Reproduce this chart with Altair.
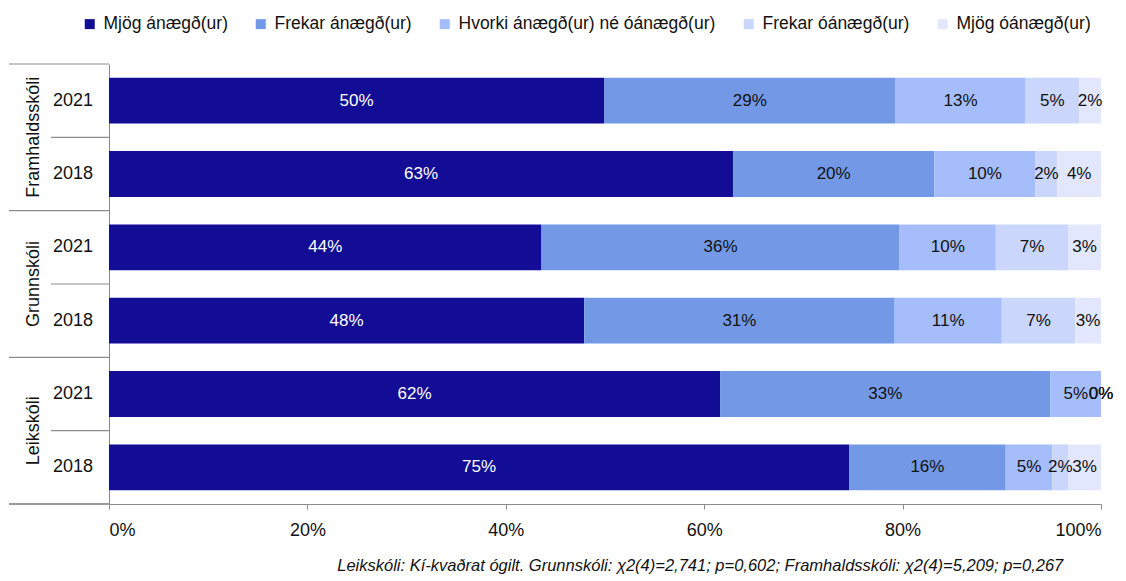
import altair as alt
import pandas as pd

FONT = "Liberation Sans"

groups = ["Framhaldsskóli", "Grunnskóli", "Leikskóli"]
row_groups = ["Framhaldsskóli", "Framhaldsskóli", "Grunnskóli", "Grunnskóli", "Leikskóli", "Leikskóli"]
row_years = ["2021", "2018", "2021", "2018", "2021", "2018"]
series = ["Mjög ánægð(ur)", "Frekar ánægð(ur)", "Hvorki ánægð(ur) né óánægð(ur)",
          "Frekar óánægð(ur)", "Mjög óánægð(ur)"]
colors = ["#130d96", "#7399e6", "#a5bdfa", "#cad6fb", "#e2e7fd"]

very_satisfied = [49.9, 62.9, 43.6, 47.9, 61.6, 74.6]
fairly_satisfied = [29.4, 20.3, 36.1, 31.3, 33.3, 15.8]
neutral = [13.1, 10.2, 9.7, 10.8, 5.1, 4.7]
fairly_dissatisfied = [5.4, 2.2, 7.3, 7.4, 0.0, 1.6]
very_dissatisfied = [2.2, 4.4, 3.3, 2.6, 0.0, 3.3]

footnote = ("Leikskóli: Kí-kvaðrat ógilt. Grunnskóli: χ2(4)=2,741; p=0,602; "
            "Framhaldsskóli: χ2(4)=5,209; p=0,267")

row_keys = [f"{g} {y}" for g, y in zip(row_groups, row_years)]
all_series = [very_satisfied, fairly_satisfied, neutral, fairly_dissatisfied, very_dissatisfied]
records = []
for r in range(len(row_years)):
    for k, s in enumerate(series):
        records.append({"key": row_keys[r], "group": row_groups[r], "year": row_years[r],
                        "series": s, "order": k, "value": all_series[k][r]})
df = pd.DataFrame(records)

rows_df = pd.DataFrame({"key": row_keys, "year": row_years})
# group labels sit on the boundary between the two rows of a group (top edge of its 2nd row)
group_df = pd.DataFrame({"group": groups, "key": [row_keys[1], row_keys[3], row_keys[5]]})
full_sep = pd.DataFrame({"key": [row_keys[0], row_keys[2], row_keys[4]]})
half_sep = pd.DataFrame({"key": [row_keys[1], row_keys[3], row_keys[5]]})

y_scale = alt.Scale(domain=row_keys, paddingInner=0, paddingOuter=0)
LINE = "#8c8c8c"
TXT = "#111111"

bars = alt.Chart(df).mark_bar(height={"band": 0.625}).encode(
    x=alt.X("value:Q", stack="normalize",
            scale=alt.Scale(domain=[0, 1], nice=False),
            axis=alt.Axis(format="%", values=[0, 0.2, 0.4, 0.6, 0.8, 1.0], title=None,
                          grid=False, domainColor=LINE, tickColor=LINE, tickSize=5,
                          labelFont=FONT, labelFontSize=18, labelColor=TXT,
                          labelPadding=12)),
    y=alt.Y("key:N", scale=y_scale,
            axis=alt.Axis(labels=False, ticks=False, grid=False, title=None,
                          domainColor=LINE)),
    color=alt.Color("series:N", scale=alt.Scale(domain=series, range=colors),
                    legend=alt.Legend(title=None, orient="none", legendX=-28, legendY=-49,
                                      direction="horizontal", columns=5, symbolType="square",
                                      symbolSize=100, symbolStrokeWidth=0, labelFont=FONT,
                                      labelFontSize=17.5, labelColor=TXT, labelOffset=5,
                                      columnPadding=24, labelLimit=400)),
    order=alt.Order("order:Q"),
)

labels = alt.Chart(df).transform_stack(
    stack="value", groupby=["key"], as_=["x0", "x1"],
    sort=[alt.SortField("order")], offset="normalize"
).transform_calculate(
    mid="(datum.x0 + datum.x1) / 2",
    label="format(datum.value, '.0f') + '%'"
).mark_text(font=FONT, fontSize=17).encode(
    x=alt.X("mid:Q"),
    y=alt.Y("key:N"),
    text="label:N",
    color=alt.condition(alt.datum.order == 0, alt.value("white"), alt.value(TXT)),
)

years_txt = alt.Chart(rows_df).mark_text(font=FONT, fontSize=18, color=TXT).encode(
    x=alt.value(-36), y=alt.Y("key:N"), text="year:N")

groups_txt = alt.Chart(group_df).mark_text(font=FONT, fontSize=18, color=TXT,
                                           angle=270).encode(
    x=alt.value(-75), y=alt.Y("key:N", bandPosition=0), text="group:N")

full_rules = alt.Chart(full_sep).mark_rule(color=LINE, strokeWidth=1.2).encode(
    x=alt.value(-100), x2=alt.value(0), y=alt.Y("key:N", bandPosition=0))
bottom_rule = alt.Chart(full_sep).mark_rule(color=LINE, strokeWidth=1.2).encode(
    x=alt.value(-100), x2=alt.value(0), y=alt.value("height"))
half_rules = alt.Chart(half_sep).mark_rule(color=LINE, strokeWidth=1.2).encode(
    x=alt.value(-58), x2=alt.value(0), y=alt.Y("key:N", bandPosition=0))

chart = alt.layer(bars, labels, years_txt, groups_txt, full_rules, bottom_rule,
                  half_rules).properties(
    width=1110, height=567,
    autosize=alt.AutoSizeParams(type="fit", contains="padding"),
    padding={"left": 0, "top": 55, "right": 4, "bottom": 0},
    title=alt.TitleParams(text=footnote, orient="bottom", anchor="end", dx=-50,
                          font=FONT, fontSize=16.5, fontStyle="italic", fontWeight="normal",
                          color=TXT, offset=19),
).configure_view(stroke=None)

chart.save("out.html", embed_options={"renderer": "svg", "actions": False})
